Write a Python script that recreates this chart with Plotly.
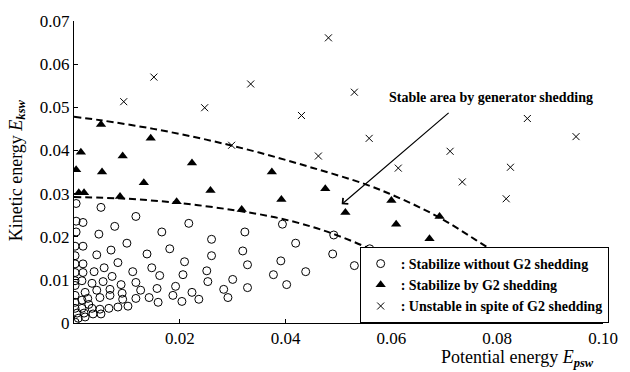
import plotly.graph_objects as go

# ---- data ----
stable_x = [0.0004, 0.0051, 0.0117, 0.0217, 0.0004, 0.0017, 0.0077, 0.0004, 0.0166, 0.0047,
            0.0323, 0.0260, 0.0002, 0.0017, 0.0100, 0.0070, 0.0181, 0.0319, 0.0138, 0.0043,
            0.0260, 0.0002, 0.0002, 0.0017, 0.0083, 0.0209, 0.0328, 0.0057, 0.0147, 0.0038,
            0.0111, 0.0251, 0.0206, 0.0002, 0.0017, 0.0072, 0.0162, 0.0002, 0.0055, 0.0034,
            0.0089, 0.0117, 0.0192, 0.0253, 0.0300, 0.0328, 0.0021, 0.0043, 0.0068, 0.0091,
            0.0126, 0.0157, 0.0187, 0.0223, 0.0283, 0.0026, 0.0049, 0.0068, 0.0092, 0.0117,
            0.0142, 0.0204, 0.0236, 0.0291, 0.0159, 0.0102, 0.0083, 0.0066, 0.0049, 0.0034,
            0.0394, 0.0419, 0.0491, 0.0391, 0.0489, 0.0559, 0.0377, 0.0438, 0.0402, 0.0530,
            0.0002, 0.0002, 0.0015, 0.0015, 0.0002, 0.0002, 0.0015, 0.0006, 0.0019, 0.0036,
            0.0051, 0.0008, 0.0021, 0.0002, 0.0028]
stable_y = [0.0277, 0.0268, 0.0247, 0.0231, 0.0236, 0.0233, 0.0224, 0.0211, 0.0211, 0.0206,
            0.0211, 0.0194, 0.0178, 0.0178, 0.0185, 0.0169, 0.0172, 0.0167, 0.0160, 0.0158,
            0.0156, 0.0156, 0.0137, 0.0137, 0.0140, 0.0142, 0.0135, 0.0128, 0.0128, 0.0119,
            0.0119, 0.0121, 0.0112, 0.0117, 0.0117, 0.0108, 0.0110, 0.0098, 0.0096, 0.0092,
            0.0089, 0.0094, 0.0085, 0.0096, 0.0101, 0.0082, 0.0071, 0.0076, 0.0078, 0.0069,
            0.0076, 0.0080, 0.0064, 0.0071, 0.0078, 0.0057, 0.0059, 0.0064, 0.0055, 0.0057,
            0.0059, 0.0050, 0.0055, 0.0059, 0.0048, 0.0039, 0.0037, 0.0034, 0.0032, 0.0034,
            0.0229, 0.0185, 0.0204, 0.0144, 0.0160, 0.0172, 0.0112, 0.0119, 0.0089, 0.0133,
            0.0087, 0.0064, 0.0098, 0.0053, 0.0048, 0.0034, 0.0034, 0.0023, 0.0023, 0.0021,
            0.0021, 0.0011, 0.0014, 0.0002, 0.0043]

shed_x = [0.0013, 0.0004, 0.0051, 0.0092, 0.0145, 0.0223, 0.0053, 0.0132, 0.0009, 0.0019,
          0.0087, 0.0194, 0.0258, 0.0317, 0.0392, 0.0374, 0.0475, 0.0513, 0.0600, 0.0609,
          0.0672, 0.0691]
shed_y = [0.0396, 0.0355, 0.0460, 0.0387, 0.0428, 0.0371, 0.0350, 0.0325, 0.0302, 0.0302,
          0.0293, 0.0281, 0.0307, 0.0263, 0.0286, 0.0350, 0.0311, 0.0256, 0.0284, 0.0229,
          0.0195, 0.0247]

unstable_x = [0.0094, 0.0151, 0.0247, 0.0298, 0.0334, 0.0481, 0.0530, 0.0430, 0.0558,
              0.0462, 0.0613, 0.0857, 0.0949, 0.0711, 0.0825, 0.0734, 0.0817]
unstable_y = [0.0513, 0.0570, 0.0499, 0.0412, 0.0554, 0.0661, 0.0535, 0.0481, 0.0428,
              0.0387, 0.0359, 0.0474, 0.0432, 0.0398, 0.0361, 0.0327, 0.0288]

upper_x = [0.0, 0.005, 0.015, 0.025, 0.035, 0.045, 0.055, 0.062, 0.069, 0.076, 0.082, 0.087, 0.090]
upper_y = [0.0478, 0.0470, 0.0450, 0.0425, 0.0395, 0.0360, 0.0322, 0.0287, 0.0245, 0.0192, 0.0142, 0.0080, 0.0030]

lower_x = [0.0, 0.010, 0.020, 0.030, 0.038, 0.045, 0.050, 0.055, 0.060, 0.065, 0.070]
lower_y = [0.0292, 0.0288, 0.0278, 0.0262, 0.0245, 0.0223, 0.0202, 0.0177, 0.0146, 0.0100, 0.0040]

x_tickvals = [0.02, 0.04, 0.06, 0.08, 0.10]
x_ticktext = ["0.02", "0.04", "0.06", "0.08", "0.10"]
y_tickvals = [0, 0.01, 0.02, 0.03, 0.04, 0.05, 0.06, 0.07]
y_ticktext = ["0", "0.01", "0.02", "0.03", "0.04", "0.05", "0.06", "0.07"]

arrow_head = (0.0506, 0.0275)
arrow_tail = (0.0711, 0.0490)
label_pos = (0.0789, 0.0522)

SERIF = "Liberation Serif"

fig = go.Figure()

dash_style = dict(color="black", width=2, dash="7px,4px")
fig.add_trace(go.Scatter(x=upper_x, y=upper_y, mode="lines", line=dash_style,
                         line_shape="spline", showlegend=False, hoverinfo="skip"))
fig.add_trace(go.Scatter(x=lower_x, y=lower_y, mode="lines", line=dash_style,
                         line_shape="spline", showlegend=False, hoverinfo="skip"))

fig.add_trace(go.Scatter(
    x=stable_x, y=stable_y, mode="markers", name=": Stabilize without G2 shedding",
    marker=dict(symbol="circle-open", size=8, color="black", line=dict(width=1, color="black"))))
fig.add_trace(go.Scatter(
    x=shed_x, y=shed_y, mode="markers", name=": Stabilize by G2 shedding",
    marker=dict(symbol="triangle-up", size=9, color="black", line=dict(width=0))))
fig.add_trace(go.Scatter(
    x=unstable_x, y=unstable_y, mode="markers", name=": Unstable in spite of G2 shedding",
    marker=dict(symbol="x-thin", size=7, color="black", line=dict(width=1, color="black"))))

fig.add_annotation(x=arrow_head[0], y=arrow_head[1], ax=arrow_tail[0], ay=arrow_tail[1],
                   xref="x", yref="y", axref="x", ayref="y", text="", showarrow=True,
                   arrowhead=4, arrowsize=1.3, arrowwidth=1.2, arrowcolor="black")
fig.add_annotation(x=label_pos[0], y=label_pos[1], xref="x", yref="y",
                   text="<b>Stable area by generator shedding</b>", showarrow=False,
                   font=dict(family=SERIF, size=14, color="black"))

fig.add_annotation(x=-0.107, y=0.507, xref="paper", yref="paper", textangle=-90,
                   text="Kinetic energy <i>E</i><sub><b><i>ksw</i></b></sub>",
                   showarrow=False, xanchor="center", yanchor="middle",
                   font=dict(family=SERIF, size=18, color="black"))
fig.add_annotation(x=0.987, y=-0.118, xref="paper", yref="paper",
                   text="Potential energy <i>E</i><sub><b><i>psw</i></b></sub>",
                   showarrow=False, xanchor="right", yanchor="middle",
                   font=dict(family=SERIF, size=18, color="black"))

fig.update_xaxes(range=[0, 0.1], tickvals=x_tickvals, ticktext=x_ticktext,
                 showline=True, linecolor="black", linewidth=1, ticks="inside", ticklen=4,
                 tickcolor="black", showgrid=False, zeroline=False,
                 tickfont=dict(family=SERIF, size=17, color="black"))
fig.update_yaxes(range=[0, 0.07], tickvals=y_tickvals, ticktext=y_ticktext,
                 showline=True, linecolor="black", linewidth=1, ticks="inside", ticklen=4,
                 tickcolor="black", showgrid=False, zeroline=False,
                 tickfont=dict(family=SERIF, size=17, color="black"))

fig.update_layout(
    width=630, height=372, autosize=False,
    margin=dict(l=74, r=25, t=17, b=49),
    plot_bgcolor="white", paper_bgcolor="white",
    legend=dict(x=0.54, y=0, xanchor="left", yanchor="bottom",
                bgcolor="white", bordercolor="black", borderwidth=1,
                itemwidth=30, tracegroupgap=0,
                font=dict(family=SERIF, size=14, color="black", weight="bold")),
)

fig.write_html("out.html")
